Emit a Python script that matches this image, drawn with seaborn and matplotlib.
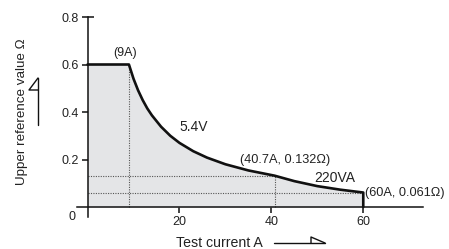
import numpy as np
import matplotlib
matplotlib.use('Agg')
import matplotlib.pyplot as plt
import seaborn as sns
from matplotlib.lines import Line2D

# --- data ---
current_a = [0, 9, 10, 11, 12, 13, 14, 16, 18, 20, 23, 26, 30, 35, 40.7, 45, 50, 55, 60, 60]
upper_ohm = [0.6, 0.6, 0.54, 0.491, 0.45, 0.415, 0.386, 0.338, 0.3, 0.27, 0.235,
             0.208, 0.18, 0.154, 0.132, 0.109, 0.088, 0.073, 0.061, 0.0]

# corner points marked with dotted guides
guide_x = [9, 40.7]
guide_x_top = [0.6, 0.132]
guide_y = [0.132, 0.061]
guide_y_right = [40.7, 60]

x_ticks = [20, 40, 60]
y_ticks = [0.2, 0.4, 0.6, 0.8]

sns.set_style('white')
plt.rcParams['font.family'] = ['Liberation Sans', 'DejaVu Sans']

fig = plt.figure(figsize=(4.49, 2.49), dpi=100)
ax = fig.add_axes([77 / 449, 1 - 217 / 249, 346 / 449, 200 / 249])

# grey area under the limit curve
ax.fill_between(current_a, upper_ohm, 0, color='#e4e5e7', lw=0, zorder=1)

# dotted guides
ax.vlines(guide_x, 0, guide_x_top, colors='#555555', linestyles=(0, (1, 1.2)), lw=0.8, zorder=2)
ax.hlines(guide_y, 0, guide_y_right, colors='#555555', linestyles=(0, (1, 1.2)), lw=0.8, zorder=2)

# limit curve
sns.lineplot(x=current_a, y=upper_ohm, sort=False, estimator=None, color='#111111',
             lw=1.9, ax=ax, zorder=3)

ax.set_xlim(-2.3, 73)
ax.set_ylim(-0.042, 0.8)

for s in ['top', 'right']:
    ax.spines[s].set_visible(False)
ax.spines['left'].set_position(('data', 0))
ax.spines['bottom'].set_position(('data', 0))
for s in ['left', 'bottom']:
    ax.spines[s].set_linewidth(1.1)
    ax.spines[s].set_color('#111111')

ax.set_xticks(x_ticks)
ax.set_xticklabels([str(t) for t in x_ticks])
ax.set_yticks(y_ticks)
ax.set_yticklabels([f'{t:.1f}' for t in y_ticks])
ax.tick_params(axis='both', bottom=True, left=True, direction='inout', length=9, width=1.1,
               color='#111111', labelsize=9, labelcolor='#222222')
ax.tick_params(axis='x', pad=2)
ax.tick_params(axis='y', pad=2)

ax.text(-3.4, -0.042, '0', ha='center', va='center', fontsize=9, color='#222222', clip_on=False)

# annotations
ax.text(8.2, 0.648, '(9A)', ha='center', va='center', fontsize=9, color='#222222')
ax.text(23.2, 0.337, '5.4V', ha='center', va='center', fontsize=10, color='#222222')
ax.text(33.2, 0.2, '(40.7A, 0.132Ω)', ha='left', va='center', fontsize=9.2, color='#222222')
ax.text(53.8, 0.122, '220VA', ha='center', va='center', fontsize=10, color='#222222')
ax.text(60.3, 0.059, '(60A, 0.061Ω)', ha='left', va='center', fontsize=9.2,
        color='#222222', clip_on=False)

# axis titles with the small half-headed arrows
fig.text(22 / 449, 1 - 112 / 249, 'Upper reference value Ω', rotation=90,
         ha='center', va='center', fontsize=9.6, color='#222222')
fig.text(219 / 449, 1 - 243 / 249, 'Test current A', ha='center', va='center',
         fontsize=10.2, color='#222222')

W, H = 449, 249
def px(xs, ys):
    return [x / W for x in xs], [1 - y / H for y in ys]

for xs, ys in [([38, 38], [125, 78]), ([38, 29, 38], [78, 90, 90]),
               ([274, 325], [243, 243]), ([325, 311, 311], [243, 237, 243])]:
    fx, fy = px(xs, ys)
    fig.add_artist(Line2D(fx, fy, color='#111111', lw=1.0, transform=fig.transFigure))

fig.savefig('out.png', dpi=100)
